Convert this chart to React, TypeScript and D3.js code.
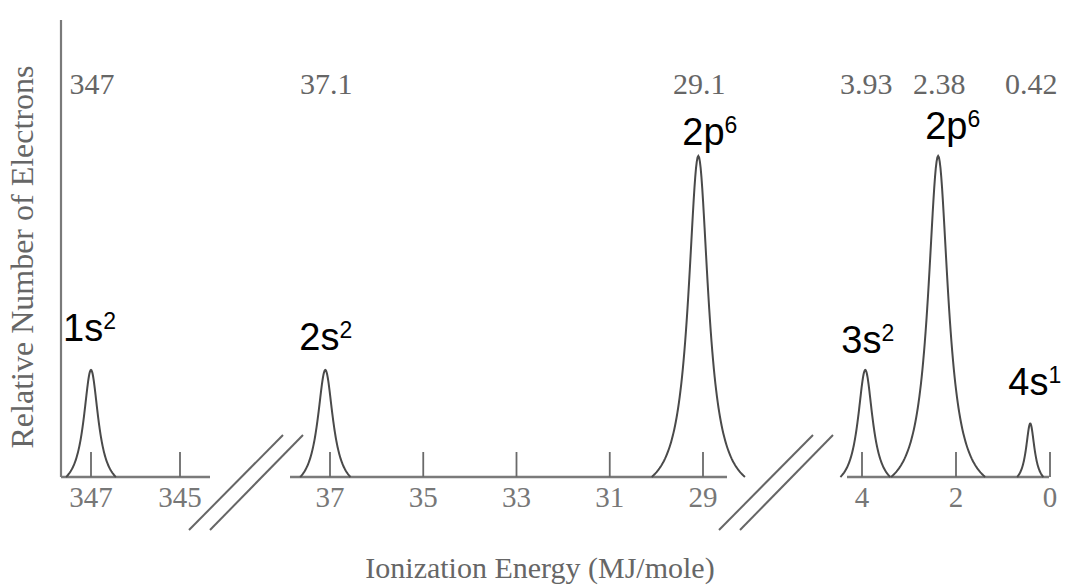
import * as d3 from 'd3';

// peaks of the photoelectron spectrum
const PEAK_ORBITAL = ['1s', '2s', '2p', '3s', '2p', '4s'];
const PEAK_SUP = ['2', '2', '6', '2', '6', '1'];
const PEAK_ENERGY = [347, 37.1, 29.1, 3.93, 2.38, 0.42];
const PEAK_LABEL = ['347', '37.1', '29.1', '3.93', '2.38', '0.42'];
const PEAK_ELECTRONS = [2, 2, 6, 2, 6, 1];
const PEAK_SEGMENT = [0, 1, 1, 2, 2, 2];
const PEAK_HWHM = [0.2, 0.2, 0.26, 0.19, 0.26, 0.11];
const PEAK_FOOT = [0.56, 0.54, 1.0, 0.53, 1.0, 0.28];

// broken x axis: three pieces
const SEG_DOMAIN: [number, number][] = [[347, 345], [37, 29], [4, 0]];
const SEG_TICKS = [[347, 345], [37, 35, 33, 31, 29], [4, 2, 0]];

const W = 1071, H = 588;
const SEG_RANGE: [number, number][] = [[91, 180], [330, 703], [862, 1050]];
const SEG_LINE: [number, number][] = [[61, 210], [290, 727], [847, 1049]];
const BREAKS = [246, 776];
const BASE_Y = 477;
// orbital label placement (left offset from peak, baseline)
const LABEL_DX = [-28, -26, -16, -24, -13, -22];
const LABEL_Y = [341, 350, 145, 353, 139, 395];

const serif = '"Liberation Serif", "DejaVu Serif", serif';
const sans = '"Liberation Sans", Arial, sans-serif';

export default function App() {
  const xs = SEG_DOMAIN.map((d, i) => d3.scaleLinear().domain(d).range(SEG_RANGE[i]));
  const y = d3.scaleLinear().domain([0, 6]).range([BASE_Y, 156]);

  const line = d3.line<[number, number]>().x(p => p[0]).y(p => p[1]);

  const peaks = PEAK_ENERGY.map((e, i) => {
    const x = xs[PEAK_SEGMENT[i]];
    const g = PEAK_HWHM[i], c = PEAK_FOOT[i];
    const L = (d: number) => (g * g) / (d * d + g * g);
    const lc = L(c);
    const pts: [number, number][] = d3.range(-c, c + 1e-9, c / 60).map(d => [
      x(e + d),
      y((PEAK_ELECTRONS[i] * (L(d) - lc)) / (1 - lc)),
    ]);
    return { d: line(pts) || '', cx: x(e) };
  });

  return (
    <svg width={W} height={H} style={{ position: 'absolute', left: 0, top: 0, background: '#fff' }}>
      {/* y axis */}
      <line x1={61} x2={61} y1={20} y2={BASE_Y} stroke="#7a7a7a" strokeWidth={2.2} />
      <text transform={`translate(33,${257}) rotate(-90)`} textAnchor="middle"
        fontFamily={serif} fontSize={32} fill="#666">Relative Number of Electrons</text>

      {/* baselines, ticks */}
      {SEG_LINE.map((s, i) => (
        <g key={i}>
          <line x1={s[0]} x2={s[1]} y1={BASE_Y} y2={BASE_Y} stroke="#7a7a7a" strokeWidth={2.5} />
          {SEG_TICKS[i].map(t => (
            <g key={t} transform={`translate(${xs[i](t)},0)`}>
              <line y1={BASE_Y - 25} y2={BASE_Y} stroke="#6a6a6a" strokeWidth={1.8} />
              <text y={507} textAnchor="middle" fontFamily={serif} fontSize={29} fill="#777">{t}</text>
            </g>
          ))}
        </g>
      ))}

      {/* axis break marks */}
      {BREAKS.map(cx => (
        <g key={cx} stroke="#666" strokeWidth={2}>
          <line x1={cx - 57} y1={530} x2={cx + 37} y2={435} />
          <line x1={cx - 36} y1={530} x2={cx + 57} y2={435} />
        </g>
      ))}

      {/* peaks */}
      {peaks.map((p, i) => (
        <path key={i} d={p.d} fill="none" stroke="#4a4a4a" strokeWidth={2} />
      ))}

      {/* energy labels on top */}
      {peaks.map((p, i) => (
        <text key={i} x={p.cx + 1} y={94} textAnchor="middle" fontFamily={serif} fontSize={30} fill="#666">
          {PEAK_LABEL[i]}
        </text>
      ))}

      {/* orbital labels */}
      {peaks.map((p, i) => (
        <text key={i} x={p.cx + LABEL_DX[i]} y={LABEL_Y[i]} fontFamily={sans} fontSize={38} fill="#000">
          {PEAK_ORBITAL[i]}
          <tspan fontSize={23} dy={-12}>{PEAK_SUP[i]}</tspan>
        </text>
      ))}

      <text x={540} y={578} textAnchor="middle" fontFamily={serif} fontSize={30} fill="#666">
        Ionization Energy (MJ/mole)
      </text>
    </svg>
  );
}
